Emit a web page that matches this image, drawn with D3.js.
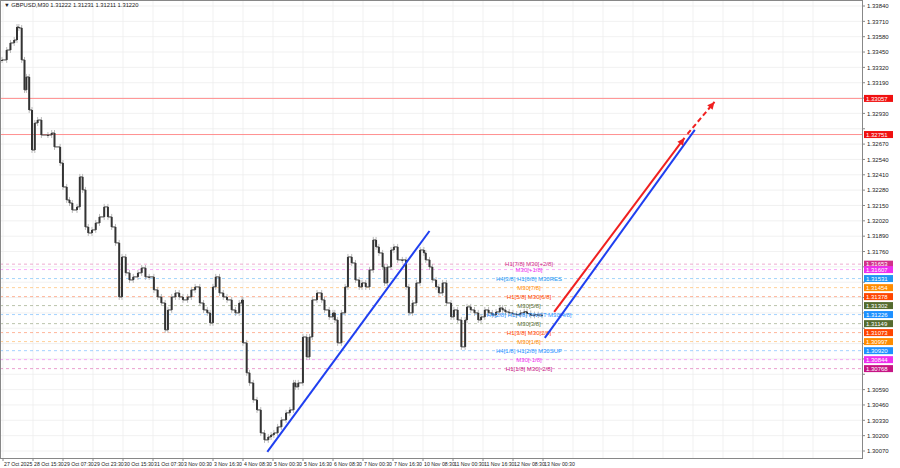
<!DOCTYPE html>
<html><head><meta charset="utf-8">
<script src="https://cdn.jsdelivr.net/npm/d3@7"></script>
<style>body{margin:0;background:#fff}svg{display:block;font-family:"Liberation Sans",sans-serif}</style>
</head><body><svg id="c" width="900" height="468"></svg>
<script>
// bar index (M30 bars from 27 Oct) and close prices
const bars=[0,5,9,13,16,18,21,24,26,29,32,35,38,42,49,53,56,62,65,69,72,75,80,83,86,89,92,96,100,104,109,113,117,121,125,128,132,136,140,145,149,153,157,162,166,170,174,177,181,185,189,193,198,202,206,211,215,219,222,225,228,232,236,240,245,249,253,256,257,261,264,268,272,276,280,284,287,290,294,298,303,307,311,313,316,321,325,328,331,336,341,344,349,353,355,358,362,366,369,373,377,381,384,388,392,396,399,402,406,408,411,415,418,422,427,431,434,438,442,446,450,452,456,459,463,466,470,474,479,482,486,490,494,496,500,504,508,511,515,519,523,527,531,534,537,541,545,549,553,557,560,564,568,572,576,580,583];
const closes=[1.33383,1.33467,1.33527,1.33552,1.33662,1.33654,1.33383,1.33129,1.33239,1.32959,1.32620,1.32849,1.32874,1.32747,1.32747,1.32764,1.32646,1.32510,1.32307,1.32197,1.32171,1.32112,1.32138,1.32392,1.32282,1.31968,1.31917,1.31943,1.32002,1.32053,1.32138,1.32053,1.31968,1.31833,1.31375,1.31714,1.31579,1.31519,1.31545,1.31579,1.31621,1.31545,1.31545,1.31435,1.31375,1.31324,1.31096,1.31265,1.31375,1.31409,1.31375,1.31350,1.31375,1.31435,1.31460,1.31324,1.31265,1.31240,1.31155,1.31460,1.31545,1.31409,1.31375,1.31350,1.31265,1.31240,1.31324,1.31350,1.30986,1.30732,1.30647,1.30503,1.30418,1.30223,1.30164,1.30189,1.30206,1.30223,1.30274,1.30333,1.30393,1.30418,1.30647,1.30613,1.30647,1.31036,1.30867,1.31036,1.31350,1.31409,1.31350,1.31265,1.31206,1.31240,1.31180,1.30986,1.31240,1.31460,1.31714,1.31663,1.31519,1.31460,1.31494,1.31460,1.31604,1.31858,1.31799,1.31748,1.31629,1.31494,1.31629,1.31773,1.31799,1.31689,1.31689,1.31460,1.31240,1.31324,1.31494,1.31773,1.31748,1.31689,1.31629,1.31519,1.31460,1.31409,1.31494,1.31324,1.31206,1.31265,1.31180,1.30952,1.31180,1.31291,1.31265,1.31240,1.31180,1.31206,1.31265,1.31240,1.31223,1.31248,1.31282,1.31265,1.31248,1.31240,1.31230,1.31226,1.31240,1.31250,1.31235,1.31220,1.31225,1.31222,1.31220];
const tickLabels=["27 Oct 2025","28 Oct 15:30","29 Oct 07:30","29 Oct 23:30","30 Oct 15:30","31 Oct 07:30","3 Nov 00:30","3 Nov 16:30","4 Nov 08:30","5 Nov 00:30","5 Nov 16:30","6 Nov 08:30","7 Nov 00:30","7 Nov 16:30","10 Nov 08:30","11 Nov 00:30","11 Nov 16:30","12 Nov 08:30","13 Nov 00:30"];
const priceTicks=d3.range(0,30).map(i=>+(1.33840-i*0.0013).toFixed(5));
const levelPrices=[1.31653,1.31607,1.31531,1.31454,1.31378,1.31302,1.31226,1.31149,1.31073,1.30997,1.30920,1.30844,1.30768];
const levelNames=["H1[7/8] M30[+2/8]","M30[+1/8]","H4[3/8] H1[6/8] M30RES","M30[7/8]","H1[5/8] M30[6/8]","M30[5/8]","H4[2/8] H1[4/8] PIVOT M30[4/8]","M30[3/8]","H1[3/8] M30[2/8]","M30[1/8]","H4[1/8] H1[2/8] M30SUP","M30[-1/8]","H1[1/8] M30[-2/8]"];
const levelColors=["#d1308a","#ee30ee","#2196f3","#ff8c00","#ff4500","#556b2f","#1e90ff","#556b2f","#ff4500","#ff8c00","#1e90ff","#ee30ee","#c71585"];
const redLevels=[1.33057,1.32751];
const blueLines=[[[283,1.30062],[456,1.31934]],[[579,1.31028],[739,1.32790]]];
const redArrow=[[589,1.31248],[728,1.32722],[760,1.33027]];

const svg=d3.select("#c");
const W=862,H=458;
const x=d3.scaleLinear().domain([0,32]).range([2,32]);
const y=d3.scaleLinear().domain([1.30070,1.33840]).range([451,6]);

const g=svg.append("g");
priceTicks.forEach(p=>g.append("line").attr("x1",0).attr("x2",W).attr("y1",y(p)).attr("y2",y(p)).attr("stroke","#eeeeee").attr("stroke-width",0.8));
d3.range(0,28).forEach(i=>g.append("line").attr("x1",x(i*32)+1).attr("x2",x(i*32)+1).attr("y1",0).attr("y2",H).attr("stroke","#eeeeee").attr("stroke-width",0.8));

redLevels.forEach(p=>svg.append("line").attr("x1",0).attr("x2",W).attr("y1",y(p)).attr("y2",y(p)).attr("stroke","#ff9090").attr("stroke-width",1));
levelPrices.forEach((p,i)=>{
 svg.append("line").attr("x1",0).attr("x2",W).attr("y1",y(p)).attr("y2",y(p)).attr("stroke",levelColors[i]).attr("stroke-opacity",0.4).attr("stroke-dasharray","3,3").attr("stroke-width",1);
});

const cg=svg.append("g");
closes.forEach((c,i)=>{
 const o=i?closes[i-1]:c;
 const xi=x(bars[i]);
 const hi=Math.max(o,c), lo=Math.min(o,c);
 cg.append("line").attr("x1",xi).attr("x2",xi).attr("y1",y(hi)-3).attr("y2",y(lo)+3).attr("stroke","#aaa").attr("stroke-width",0.8);
 cg.append("rect").attr("x",xi-1).attr("width",2).attr("y",y(hi)).attr("height",Math.max(1,y(lo)-y(hi))).attr("fill","#333");
 if(i){cg.append("line").attr("x1",x(bars[i-1])).attr("x2",xi).attr("y1",y(o)).attr("y2",y(o)).attr("stroke","#444").attr("stroke-width",1);}
});

levelPrices.forEach((p,i)=>{
 svg.append("text").attr("x",529).attr("y",y(p)+2.2).attr("text-anchor","middle").attr("font-size",6).attr("fill",levelColors[i]).text(levelNames[i]);
});

blueLines.forEach(l=>svg.append("line").attr("x1",x(l[0][0])).attr("y1",y(l[0][1])).attr("x2",x(l[1][0])).attr("y2",y(l[1][1])).attr("stroke","#1f3ff0").attr("stroke-width",2));
svg.append("line").attr("x1",x(redArrow[0][0])).attr("y1",y(redArrow[0][1])).attr("x2",x(redArrow[1][0])).attr("y2",y(redArrow[1][1])).attr("stroke","#f02020").attr("stroke-width",2);
svg.append("line").attr("x1",x(redArrow[1][0])+3).attr("y1",y(redArrow[1][1])-4).attr("x2",x(redArrow[2][0])).attr("y2",y(redArrow[2][1])).attr("stroke","#f02020").attr("stroke-width",2).attr("stroke-dasharray","5,3");
function head(a,b){const x1=x(a[0]),y1=y(a[1]),x2=x(b[0]),y2=y(b[1]);const ang=Math.atan2(y2-y1,x2-x1);const L=8,w=0.45;
 svg.append("path").attr("d",`M${x2},${y2}L${x2-L*Math.cos(ang-w)},${y2-L*Math.sin(ang-w)}L${x2-L*Math.cos(ang+w)},${y2-L*Math.sin(ang+w)}Z`).attr("fill","#f02020");}
head(redArrow[0],redArrow[1]);head(redArrow[1],redArrow[2]);

svg.append("rect").attr("x",0.5).attr("y",0.5).attr("width",W).attr("height",H).attr("fill","none").attr("stroke","#888");
const allBoxes=redLevels.concat(levelPrices);
priceTicks.forEach(p=>{if(y(p)>H)return;svg.append("line").attr("x1",W).attr("x2",W+3).attr("y1",y(p)).attr("y2",y(p)).attr("stroke","#888");
 if(allBoxes.some(b=>Math.abs(y(b)-y(p))<8))return;
 svg.append("text").attr("x",W+5).attr("y",y(p)+2.2).attr("font-size",6).attr("fill","#222").text(p.toFixed(5));});
const boxes=redLevels.map(p=>[p,"#f01010"]).concat(levelPrices.map((p,i)=>[p,levelColors[i]]));
boxes.forEach(([p,c])=>{svg.append("rect").attr("x",W+2).attr("y",y(p)-3.5).attr("width",29).attr("height",7).attr("fill",c);
 svg.append("text").attr("x",W+4).attr("y",y(p)+2.2).attr("font-size",6).attr("fill","#fff").text(p.toFixed(5));});
tickLabels.forEach((t,i)=>{const xx=x(i*32)+1;if(xx>W)return;
 svg.append("line").attr("x1",xx).attr("x2",xx).attr("y1",H).attr("y2",H+3).attr("stroke","#888");
 svg.append("text").attr("x",xx+1).attr("y",H+8).attr("font-size",5.2).attr("fill","#222").text(t);});
svg.append("text").attr("x",4).attr("y",7).attr("font-size",5.8).attr("fill","#222").text("▼ GBPUSD,M30  1.31222 1.31231 1.31211 1.31220");
</script></body></html>
